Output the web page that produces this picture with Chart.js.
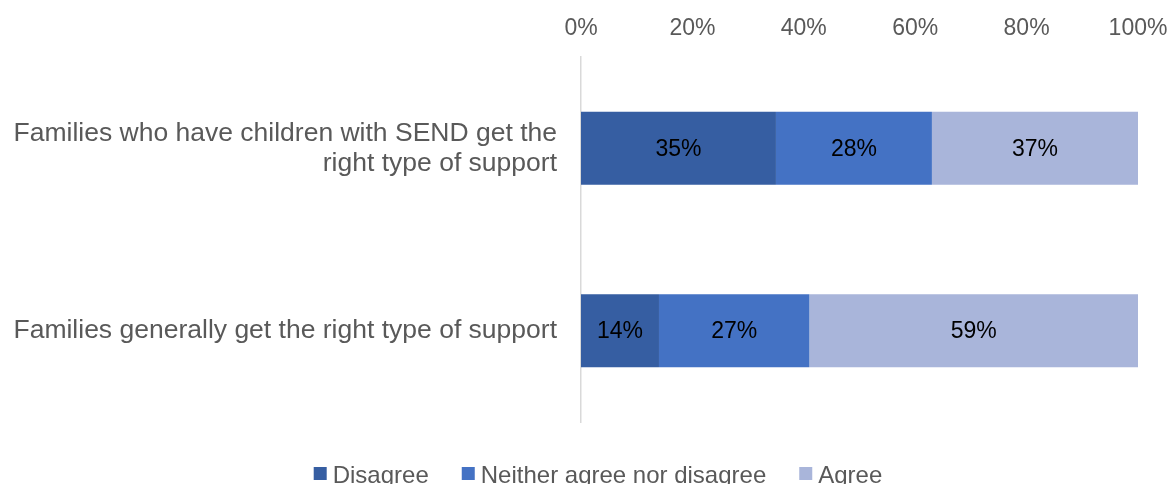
<!DOCTYPE html>
<html>
<head>
<meta charset="utf-8">
<script src="https://cdn.jsdelivr.net/npm/chart.js@4"></script>
<style>
  html, body { margin: 0; padding: 0; background: #fff; overflow: hidden; }
  #wrap { position: relative; width: 1170px; height: 484px; }
</style>
</head>
<body>
<div id="wrap"><canvas id="c"></canvas></div>
<script>
// Survey statements (multi-line labels) and response shares in percent
const categories = [
  ["Families who have children with SEND get the", "right type of support"],
  "Families generally get the right type of support"
];
const disagree = [35, 14];
const neither = [28, 27];
const agree = [37, 59];
const tickLabels = ["0%", "20%", "40%", "60%", "80%", "100%"];

const FONT = "'Liberation Sans', Arial, sans-serif";

// Writes each segment's value in the middle of its bar
const segmentLabels = {
  id: 'segmentLabels',
  afterDatasetsDraw(chart) {
    const ctx = chart.ctx;
    ctx.save();
    ctx.font = "23px " + FONT;
    ctx.fillStyle = "#000";
    ctx.textAlign = "center";
    ctx.textBaseline = "middle";
    chart.data.datasets.forEach((ds, i) => {
      chart.getDatasetMeta(i).data.forEach((bar, j) => {
        const x = (bar.x + bar.base) / 2;
        ctx.fillText(ds.data[j] + "%", x, bar.y + 1);
      });
    });
    ctx.restore();
  }
};

// Compact legend row under the plot: square swatch, short gap, label
const bottomLegend = {
  id: 'bottomLegend',
  afterDraw(chart, args, opts) {
    const ctx = chart.ctx;
    const box = opts.boxSize, gap = opts.textGap, spacing = opts.itemSpacing;
    ctx.save();
    ctx.font = opts.fontSize + "px " + FONT;
    const items = chart.data.datasets.map(ds => ({
      text: ds.label, color: ds.backgroundColor, w: ctx.measureText(ds.label).width
    }));
    const total = items.reduce((s, it) => s + box + gap + it.w, 0) + spacing * (items.length - 1);
    let x = opts.centerX - total / 2;
    ctx.textBaseline = "alphabetic";
    ctx.textAlign = "left";
    items.forEach(it => {
      ctx.fillStyle = it.color;
      ctx.fillRect(x, opts.boxTop, box, box);
      x += box + gap;
      ctx.fillStyle = opts.color;
      ctx.fillText(it.text, x, opts.baseline);
      x += it.w + spacing;
    });
    ctx.restore();
  }
};

new Chart(document.getElementById('c'), {
  type: 'bar',
  data: {
    labels: categories,
    datasets: [
      { label: 'Disagree', data: disagree, backgroundColor: '#365EA2' },
      { label: 'Neither agree nor disagree', data: neither, backgroundColor: '#4472C4' },
      { label: 'Agree', data: agree, backgroundColor: '#A9B5DA' }
    ]
  },
  options: {
    indexAxis: 'y',
    responsive: true,
    maintainAspectRatio: false,
    animation: false,
    layout: { padding: { left: 0, right: 32, top: 0, bottom: 62 } },
    datasets: { bar: { barPercentage: 0.8, categoryPercentage: 0.5, borderWidth: 0 } },
    plugins: {
      legend: { display: false },
      tooltip: { enabled: false },
      bottomLegend: {
        centerX: 598, boxTop: 467, baseline: 483,
        boxSize: 13, textGap: 6, itemSpacing: 33,
        fontSize: 24, color: '#595959'
      }
    },
    scales: {
      x: {
        position: 'top',
        stacked: true,
        min: 0,
        max: 100,
        afterBuildTicks(scale) {
          scale.ticks = tickLabels.map((t, i) => ({ value: i * 20 }));
        },
        ticks: {
          callback: (v, i) => tickLabels[i],
          font: { family: FONT, size: 23 },
          color: '#595959',
          padding: 15,
          maxRotation: 0
        },
        grid: { display: false, drawTicks: false },
        border: { display: false },
        afterFit(scale) {
          scale.height = 57;
          scale.paddingLeft = 0;
          scale.paddingRight = 0;
        }
      },
      y: {
        stacked: true,
        ticks: {
          font: { family: FONT, size: 26.5, lineHeight: 1.132 },
          color: '#595959',
          padding: 24
        },
        grid: { display: false, drawTicks: false },
        border: { display: true, color: '#D9D9D9', width: 1.5 },
        afterFit(scale) { scale.width = 581; }
      }
    }
  },
  plugins: [segmentLabels, bottomLegend]
});
</script>
</body>
</html>
